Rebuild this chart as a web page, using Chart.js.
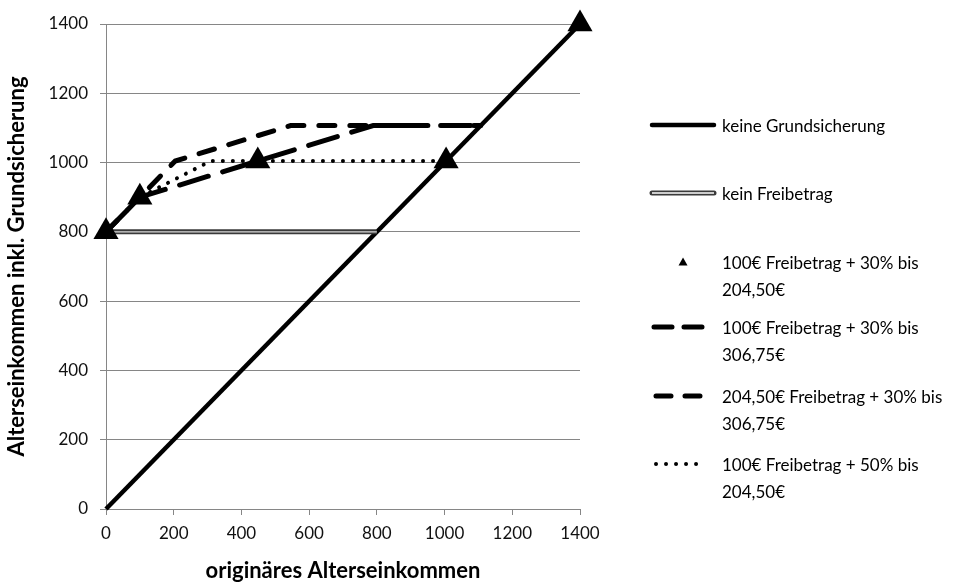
<!DOCTYPE html>
<html><head><meta charset="utf-8">
<script src="https://cdn.jsdelivr.net/npm/chart.js@4"></script>
<style>
html,body{margin:0;padding:0;background:#fff;}
#wrap{position:relative;width:974px;height:583px;overflow:hidden;background:#fff;}
#c{position:absolute;left:0;top:0;}
.lg{position:absolute;left:722px;font-family:Lato,"Open Sans",sans-serif;font-size:17px;line-height:27px;color:#000;white-space:nowrap;}
.sw{position:absolute;left:648px;overflow:visible;}
</style></head><body>
<div id="wrap"><canvas id="c" width="974" height="583"></canvas><div id="legend"></div></div>
<script>
// ---- data ----
const seriesNames = [
  "keine Grundsicherung",
  "kein Freibetrag",
  "100€ Freibetrag + 30% bis\n204,50€",
  "100€ Freibetrag + 30% bis\n306,75€",
  "204,50€ Freibetrag + 30% bis\n306,75€",
  "100€ Freibetrag + 50% bis\n204,50€"
];
const keineGrundX = [0, 1400];
const keineGrundY = [0, 1400];
const keinFreiX = [0, 800];
const keinFreiY = [800, 800];
const fb100p30b204X = [0, 100, 448.33, 1004.5, 1400];
const fb100p30b204Y = [800, 900, 1004.5, 1004.5, 1400];
const fb100p30b306X = [0, 100, 789.17, 1106.75];
const fb100p30b306Y = [800, 900, 1106.75, 1106.75];
const fb204p30b306X = [0, 204.5, 545.33, 1106.75];
const fb204p30b306Y = [800, 1004.5, 1106.75, 1106.75];
const fb100p50b204X = [0, 100, 309, 1004.5];
const fb100p50b204Y = [800, 900, 1004.5, 1004.5];
const xTickValues = [0, 200, 400, 600, 800, 1000, 1200, 1400];
const yTickValues = [0, 200, 400, 600, 800, 1000, 1200, 1400];
const xTitle = "originäres Alterseinkommen";
const yTitle = "Alterseinkommen inkl. Grundsicherung";

function pts(xs, ys){ return xs.map((x,i)=>({x:x, y:ys[i]})); }

const FONT = 'Lato, "Open Sans", sans-serif';
const GRID = '#868686';

const datasets = [
  { label: seriesNames[2], data: pts(fb100p30b204X, fb100p30b204Y), showLine:false,
    pointStyle:'triangle', pointRadius:14.5, pointHoverRadius:14.5, backgroundColor:'#000', borderColor:'#000', borderWidth:0, order:0, clip:false },
  { label: seriesNames[5], data: pts(fb100p50b204X, fb100p50b204Y), showLine:true, pointRadius:0,
    borderColor:'#000', borderWidth:4, borderDash:[0.01, 10], borderCapStyle:'round', order:1, clip:false },
  { label: seriesNames[4], data: pts(fb204p30b306X, fb204p30b306Y), showLine:true, pointRadius:0,
    borderColor:'#000', borderWidth:5, borderDash:[16, 15], borderCapStyle:'round', order:2, clip:false },
  { label: seriesNames[3], data: pts(fb100p30b306X, fb100p30b306Y), showLine:true, pointRadius:0,
    borderColor:'#000', borderWidth:5, borderDash:[30, 15], borderCapStyle:'round', order:3, clip:false },
  { label: seriesNames[1] + ' (inner)', data: pts(keinFreiX, keinFreiY), showLine:true, pointRadius:0,
    borderColor:'#d8d8d8', borderWidth:1.4, order:4, clip:false },
  { label: seriesNames[1], data: pts(keinFreiX, keinFreiY), showLine:true, pointRadius:0,
    borderColor:'#3a3a3a', borderWidth:5, order:5, clip:false },
  { label: seriesNames[0], data: pts(keineGrundX, keineGrundY), showLine:true, pointRadius:0,
    borderColor:'#000', borderWidth:4.5, order:6, clip:false }
];

Chart.defaults.font.family = FONT;

new Chart(document.getElementById('c'), {
  type: 'scatter',
  data: { datasets },
  options: {
    responsive:false, animation:false, devicePixelRatio:1,
    layout:{ padding:{ left:0, top:24, right:394, bottom:0 } },
    plugins:{ legend:{display:false}, tooltip:{enabled:false} },
    elements:{ line:{ tension:0 } },
    scales:{
      x:{
        type:'linear', min:0, max:1400,
        afterBuildTicks: s => { s.ticks = xTickValues.map(v=>({value:v})); },
        afterFit: s => { s.height = 74; },
        ticks:{ color:'#111', font:{size:17}, padding:8, maxRotation:0, autoSkip:false, callback: v => String(v) },
        grid:{ drawOnChartArea:false, drawTicks:true, tickLength:6, color:GRID, lineWidth:1 },
        border:{ color:GRID, width:1 },
        title:{ display:true, text:xTitle, color:'#000', font:{size:22, weight:'bold'}, padding:{top:0, bottom:-1} }
      },
      y:{
        type:'linear', min:0, max:1400,
        afterBuildTicks: s => { s.ticks = yTickValues.map(v=>({value:v})); },
        afterFit: s => { s.width = 106; },
        ticks:{ color:'#111', font:{size:17}, padding:12, callback: v => String(v) },
        grid:{ drawOnChartArea:true, drawTicks:true, tickLength:6, color:GRID, lineWidth:1 },
        border:{ color:GRID, width:1 },
        title:{ display:true, text:yTitle, color:'#000', font:{size:22, weight:'bold'}, padding:{top:4, bottom:0} }
      }
    }
  }
});

// ---- HTML legend ----
const legendRows = [125, 193, 262, 327, 396, 464];
const swatches = [
  '<line x1="4" y1="6" x2="66" y2="6" stroke="#000" stroke-width="4.5" stroke-linecap="round"/>',
  '<line x1="4" y1="6" x2="66" y2="6" stroke="#3a3a3a" stroke-width="5" stroke-linecap="round"/><line x1="4" y1="6" x2="66" y2="6" stroke="#fff" stroke-width="1.6"/>',
  '<polygon points="35,1.5 39.5,9.5 30.5,9.5" fill="#000"/>',
  '<line x1="6" y1="6" x2="64" y2="6" stroke="#000" stroke-width="5" stroke-dasharray="18 12" stroke-linecap="round"/>',
  '<line x1="8" y1="6" x2="56" y2="6" stroke="#000" stroke-width="5" stroke-dasharray="15 14" stroke-linecap="round"/>',
  '<line x1="8" y1="6" x2="52" y2="6" stroke="#000" stroke-width="4" stroke-dasharray="0.01 10" stroke-linecap="round"/>'
];
const lg = document.getElementById('legend');
seriesNames.forEach((name, i) => {
  const cy = legendRows[i];
  const sv = document.createElementNS('http://www.w3.org/2000/svg','svg');
  sv.setAttribute('class','sw'); sv.setAttribute('width','70'); sv.setAttribute('height','12');
  sv.style.top = (cy - 6) + 'px';
  sv.innerHTML = swatches[i];
  lg.appendChild(sv);
  const d = document.createElement('div');
  d.className = 'lg';
  d.style.top = (cy - 13.5) + 'px';
  name.split('\n').forEach((t, k) => {
    if (k) d.appendChild(document.createElement('br'));
    d.appendChild(document.createTextNode(t));
  });
  lg.appendChild(d);
});
</script>
</body></html>
